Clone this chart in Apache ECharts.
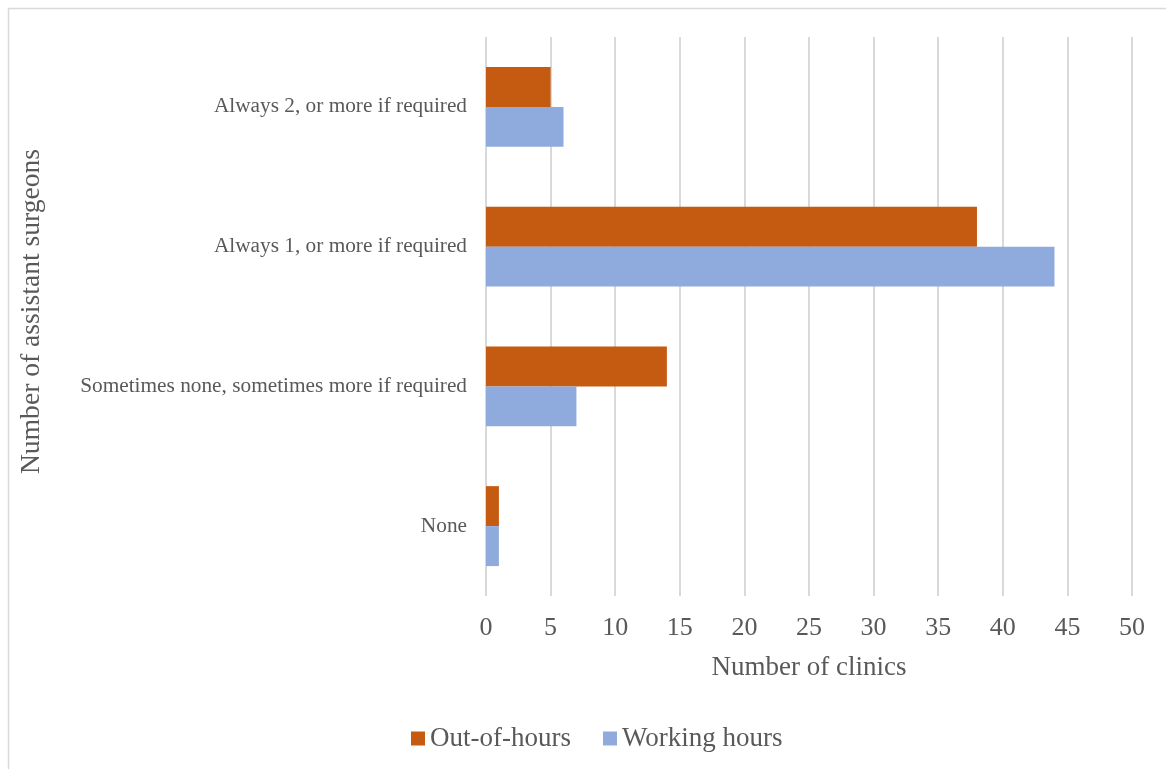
<!DOCTYPE html>
<html><head><meta charset="utf-8">
<script src="https://cdn.jsdelivr.net/npm/echarts@6/dist/echarts.min.js"></script>
<style>html,body{margin:0;padding:0;background:#fff}#c{width:1166px;height:769px}</style>
</head><body><div id="c"></div>
<script>
const categories = ['None', 'Sometimes none, sometimes more if required', 'Always 1, or more if required', 'Always 2, or more if required'];
const outOfHours = [1, 14, 38, 5];
const workingHours = [1, 7, 44, 6];
const seriesNames = ['Out-of-hours', 'Working hours'];

const font = '"Liberation Serif", "Times New Roman", serif';
const txt = '#595959';
const chart = echarts.init(document.getElementById('c'), null, {renderer: 'canvas'});
chart.setOption({
  animation: false,
  backgroundColor: '#fff',
  graphic: [{type: 'rect', shape: {x: 8.5, y: 8.5, width: 1180, height: 800}, style: {fill: 'none', stroke: '#d9d9d9', lineWidth: 1.5}, silent: true}],
  grid: {left: 486, right: 34, top: 37, bottom: 173},
  legend: {
    bottom: 12, left: 406, itemWidth: 14, itemHeight: 14, itemGap: 32, icon: 'rect',
    textStyle: {fontFamily: font, fontSize: 27, color: txt},
    data: seriesNames
  },
  xAxis: {
    type: 'value', min: 0, max: 50, interval: 5,
    name: 'Number of clinics', nameLocation: 'middle', nameGap: 58,
    nameTextStyle: {fontFamily: font, fontSize: 27, color: txt},
    axisLine: {show: false}, axisTick: {show: false},
    axisLabel: {fontFamily: font, fontSize: 26, color: txt, margin: 19},
    splitLine: {lineStyle: {color: '#d9d9d9', width: 2}}
  },
  yAxis: {
    type: 'category', data: categories,
    name: 'Number of assistant surgeons', nameLocation: 'middle', nameGap: 440,
    nameTextStyle: {fontFamily: font, fontSize: 27.6, color: txt, padding: [0, 0, 0, 10]},
    axisLine: {show: false}, axisTick: {show: false},
    axisLabel: {fontFamily: font, fontSize: 21.3, color: txt, margin: 19}
  },
  series: [
    {name: seriesNames[0], type: 'bar', data: outOfHours, barGap: '0%', barCategoryGap: '42.8%', itemStyle: {color: '#C55A11'}},
    {name: seriesNames[1], type: 'bar', data: workingHours, barGap: '0%', barCategoryGap: '42.8%', itemStyle: {color: '#8FAADC'}}
  ]
});
</script></body></html>
